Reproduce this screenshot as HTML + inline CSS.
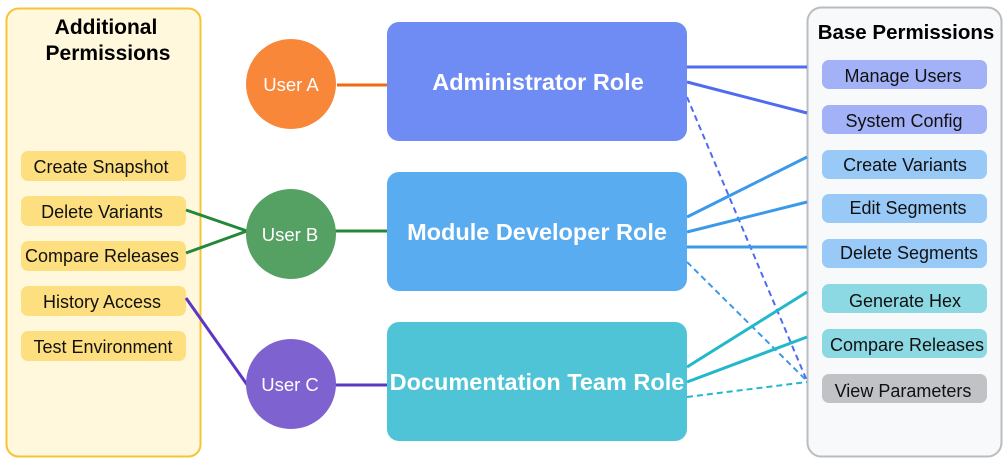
<!DOCTYPE html>
<html><head><style>
body{margin:0;width:1008px;height:462px;background:#fff;overflow:hidden;font-family:"Liberation Sans",sans-serif}
</style></head><body>
<svg width="1008" height="462" xmlns="http://www.w3.org/2000/svg" font-family="Liberation Sans, sans-serif">
<rect x="6.5" y="8.5" width="194" height="448" rx="12" fill="#fff8dc" stroke="#f7c437" stroke-width="2"/>
<text x="106" y="34" text-anchor="middle" font-size="21" font-weight="bold">Additional</text>
<text x="108" y="60" text-anchor="middle" font-size="21" font-weight="bold">Permissions</text>
<g fill="#fddf80">
<rect x="21" y="151" width="165" height="30" rx="7"/>
<rect x="21" y="196" width="165" height="30" rx="7"/>
<rect x="21" y="241" width="165" height="30" rx="7"/>
<rect x="21" y="286" width="165" height="30" rx="7"/>
<rect x="21" y="331" width="165" height="30" rx="7"/>
</g>
<g font-size="18" text-anchor="middle" fill="#111">
<text x="101" y="173">Create Snapshot</text>
<text x="102" y="218">Delete Variants</text>
<text x="102" y="262">Compare Releases</text>
<text x="102" y="308">History Access</text>
<text x="103" y="353">Test Environment</text>
</g>
<rect x="807.5" y="7.5" width="194" height="449" rx="14" fill="#f8f9fb" stroke="#b9bcc2" stroke-width="2"/>
<text x="906" y="39" text-anchor="middle" font-size="20.5" font-weight="bold">Base Permissions</text>
<rect x="822" y="60" width="165" height="29" rx="7" fill="#a3b1f7"/>
<rect x="822" y="105" width="165" height="29" rx="7" fill="#a3b1f7"/>
<rect x="822" y="150" width="165" height="29" rx="7" fill="#99c9f7"/>
<rect x="822" y="194" width="165" height="29" rx="7" fill="#99c9f7"/>
<rect x="822" y="239" width="165" height="29" rx="7" fill="#99c9f7"/>
<rect x="822" y="284" width="165" height="29" rx="7" fill="#8cd9e3"/>
<rect x="822" y="329" width="165" height="29" rx="7" fill="#8cd9e3"/>
<rect x="822" y="374" width="165" height="29" rx="7" fill="#c0c2c6"/>
<g font-size="18" text-anchor="middle" fill="#111">
<text x="903" y="82">Manage Users</text>
<text x="904" y="127">System Config</text>
<text x="905" y="171">Create Variants</text>
<text x="908" y="214">Edit Segments</text>
<text x="909" y="259">Delete Segments</text>
<text x="905" y="307">Generate Hex</text>
<text x="907" y="351">Compare Releases</text>
<text x="903" y="397">View Parameters</text>
</g>
<g stroke-width="3" fill="none">
<line x1="687" y1="67" x2="807" y2="67" stroke="#4f6bf0"/>
<line x1="687" y1="82" x2="807" y2="113" stroke="#4f6bf0"/>
<line x1="687" y1="97" x2="807" y2="381" stroke="#4f6bf0" stroke-width="2" stroke-dasharray="6,4"/>
<line x1="687" y1="217" x2="807" y2="157" stroke="#3b99ea"/>
<line x1="687" y1="232" x2="807" y2="202" stroke="#3b99ea"/>
<line x1="687" y1="247" x2="807" y2="247" stroke="#3b99ea"/>
<line x1="687" y1="262" x2="807" y2="381" stroke="#3b99ea" stroke-width="2" stroke-dasharray="6,4"/>
<line x1="687" y1="367" x2="807" y2="292" stroke="#22b8cc"/>
<line x1="687" y1="382" x2="807" y2="337" stroke="#22b8cc"/>
<line x1="687" y1="397" x2="807" y2="382" stroke="#22b8cc" stroke-width="2" stroke-dasharray="6,4"/>
<line x1="186" y1="210" x2="247" y2="231" stroke="#23883a"/>
<line x1="186" y1="253" x2="247" y2="231" stroke="#23883a"/>
<line x1="186" y1="298" x2="248" y2="386" stroke="#5b37c4"/>
<line x1="337" y1="85" x2="387" y2="85" stroke="#f06a10"/>
<line x1="335" y1="231" x2="387" y2="231" stroke="#23883a"/>
<line x1="335" y1="385" x2="387" y2="385" stroke="#5b37c4"/>
</g>
<rect x="387" y="22" width="300" height="119" rx="12" fill="#6f8cf5"/>
<rect x="387" y="172" width="300" height="119" rx="12" fill="#5aacf0"/>
<rect x="387" y="322" width="300" height="119" rx="12" fill="#4ec4d6"/>
<g font-size="23.5" font-weight="bold" fill="#fff" text-anchor="middle">
<text x="538" y="90">Administrator Role</text>
<text x="537" y="240">Module Developer Role</text>
<text x="537" y="390">Documentation Team Role</text>
</g>
<circle cx="291" cy="84" r="45" fill="#f8873a"/>
<circle cx="291" cy="234" r="45" fill="#55a063"/>
<circle cx="291" cy="384" r="45" fill="#7e63d0"/>
<g font-size="18.5" fill="#fff" text-anchor="middle">
<text x="291" y="91">User A</text>
<text x="290" y="241">User B</text>
<text x="290" y="391">User C</text>
</g>
</svg>
</body></html>
